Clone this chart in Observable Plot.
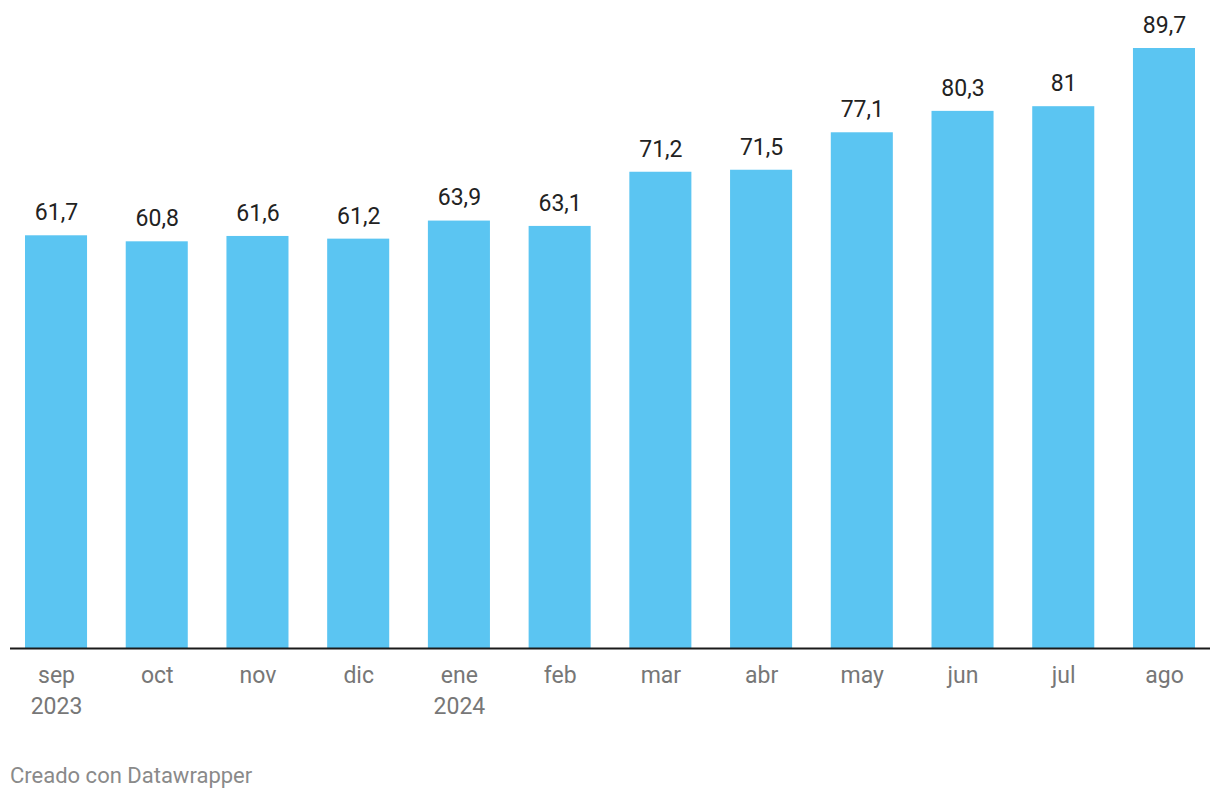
<!DOCTYPE html>
<html>
<head>
<meta charset="utf-8">
<script src="https://cdn.jsdelivr.net/npm/d3@7"></script>
<script src="https://cdn.jsdelivr.net/npm/@observablehq/plot@0.6"></script>
<style>
  html, body { margin: 0; padding: 0; background: #fff; }
  #chart { width: 1220px; }
  .caption { font-family: Roboto, sans-serif; font-size: 22px; color: #8a8a8a; margin: 24px 0 0 10px; line-height: 24px; }
</style>
</head>
<body>
<div id="chart"></div>
<div class="caption">Creado con Datawrapper</div>
<script>
const months = ["sep", "oct", "nov", "dic", "ene", "feb", "mar", "abr", "may", "jun", "jul", "ago"];
const tickLabels = ["sep\n2023", "oct", "nov", "dic", "ene\n2024", "feb", "mar", "abr", "may", "jun", "jul", "ago"];
const values = [61.7, 60.8, 61.6, 61.2, 63.9, 63.1, 71.2, 71.5, 77.1, 80.3, 81, 89.7];

const data = months.map((m, i) => ({month: m, value: values[i]}));
const fmt = v => String(v).replace(".", ",");

const chart = Plot.plot({
  width: 1220,
  height: 740,
  marginTop: 48,
  marginBottom: 92,
  marginLeft: 10,
  marginRight: 10,
  style: {fontFamily: "Roboto, sans-serif", background: "#fff"},
  x: {domain: months, range: [25, 1195], paddingInner: 0.384, paddingOuter: 0, round: false, label: null},
  y: {domain: [0, 89.7], axis: null},
  marks: [
    Plot.barY(data, {x: "month", y: "value", fill: "#5bc5f2"}),
    Plot.ruleY([0], {stroke: "#1a1a1a", strokeWidth: 2}),
    Plot.text(data, {x: "month", y: "value", text: d => fmt(d.value), dy: -23, fontSize: 23, fill: "#222"}),
    Plot.axisX({
      tickSize: 0,
      tickPadding: 12,
      fontSize: 23,
      lineHeight: 1.35,
      tickFormat: d => tickLabels[months.indexOf(d)],
      color: "#777",
      label: null
    })
  ]
});
document.getElementById("chart").appendChild(chart);
</script>
</body>
</html>
